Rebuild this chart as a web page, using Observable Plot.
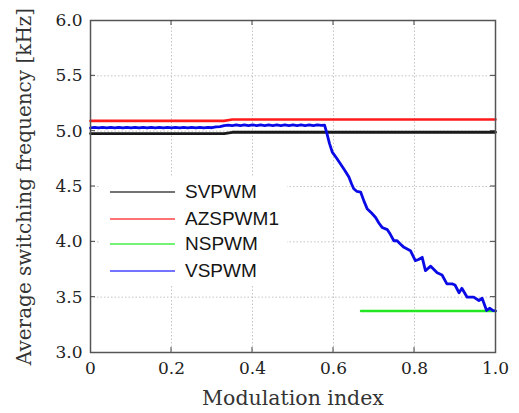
<!DOCTYPE html>
<html>
<head>
<meta charset="utf-8">
<script src="https://cdn.jsdelivr.net/npm/d3@7"></script>
<script src="https://cdn.jsdelivr.net/npm/@observablehq/plot@0.6"></script>
<style>
  html, body { margin: 0; padding: 0; background: #fff; }
  #wrap { position: relative; width: 519px; height: 413px; }
  #legend { position: absolute; left: 100px; top: 176px; width: 187px; height: 108px; background: #fff;
    font-family: "Liberation Sans", Arial, sans-serif; font-size: 19px; color: #151515; }
  .row { position: absolute; left: 0; height: 20px; display: flex; align-items: center; }
  .row svg { margin-left: 10px; }
  .row span { margin-left: 10px; }
</style>
</head>
<body>
<div id="wrap"></div>
<script>
// Tick labels
const xTicks = [0, 0.2, 0.4, 0.6, 0.8, 1.0];
const xTickLabels = ["0", "0.2", "0.4", "0.6", "0.8", "1.0"];
const yTicks = [3.0, 3.5, 4.0, 4.5, 5.0, 5.5, 6.0];
const yTickLabels = ["3.0", "3.5", "4.0", "4.5", "5.0", "5.5", "6.0"];

// Series names and colours
const seriesNames = ["SVPWM", "AZSPWM1", "NSPWM", "VSPWM"];
const seriesColors = ["#1a1a1a", "#ff1a1a", "#22e622", "#0a0ae6"];
const legendColors = ["#444444", "#ff4545", "#45ee45", "#4545ff"];

// SVPWM
const svX = [0, 0.33, 0.35, 1.0];
const svY = [4.978, 4.978, 4.99, 4.99];
// AZSPWM1
const azX = [0, 0.33, 0.35, 1.0];
const azY = [5.093, 5.093, 5.106, 5.106];
// NSPWM
const nsX = [0.668, 1.0];
const nsY = [3.375, 3.375];
// VSPWM
const vsX = [0, 0.01, 0.02, 0.03, 0.04, 0.05, 0.06, 0.07, 0.08, 0.09, 0.10,
  0.11, 0.12, 0.13, 0.14, 0.15, 0.16, 0.17, 0.18, 0.19, 0.20,
  0.21, 0.22, 0.23, 0.24, 0.25, 0.26, 0.27, 0.28, 0.29, 0.30,
  0.31, 0.32, 0.33, 0.34, 0.35, 0.36, 0.37, 0.38, 0.39, 0.40,
  0.41, 0.42, 0.43, 0.44, 0.45, 0.46, 0.47, 0.48, 0.49, 0.50,
  0.51, 0.52, 0.53, 0.54, 0.55, 0.56, 0.57, 0.578,
  0.584, 0.590, 0.597, 0.607, 0.617, 0.628, 0.638, 0.645, 0.650, 0.658,
  0.667, 0.675, 0.683, 0.694, 0.704, 0.712, 0.720, 0.733, 0.740, 0.749,
  0.757, 0.765, 0.774, 0.790, 0.802, 0.810, 0.819, 0.827, 0.840, 0.848,
  0.856, 0.868, 0.880, 0.893, 0.900, 0.910, 0.917, 0.930, 0.946, 0.959,
  0.967, 0.978, 0.986, 0.993, 1.0];
const vsY = [5.029, 5.035, 5.029, 5.035, 5.029, 5.035, 5.029, 5.035, 5.029, 5.035, 5.029,
  5.035, 5.029, 5.035, 5.029, 5.035, 5.029, 5.035, 5.029, 5.035, 5.029,
  5.035, 5.029, 5.035, 5.029, 5.035, 5.029, 5.035, 5.029, 5.035, 5.031,
  5.038, 5.042, 5.050, 5.055, 5.051, 5.056, 5.051, 5.056, 5.051, 5.056,
  5.051, 5.056, 5.051, 5.056, 5.051, 5.056, 5.051, 5.056, 5.051, 5.056,
  5.051, 5.056, 5.051, 5.056, 5.051, 5.056, 5.052, 5.055,
  4.975, 4.89, 4.81, 4.76, 4.705, 4.645, 4.585, 4.52, 4.48, 4.455,
  4.45, 4.37, 4.30, 4.26, 4.22, 4.17, 4.13, 4.11, 4.07, 4.01,
  4.01, 3.98, 3.95, 3.92, 3.83, 3.84, 3.86, 3.74, 3.78, 3.75,
  3.72, 3.70, 3.62, 3.62, 3.61, 3.54, 3.58, 3.50, 3.50, 3.47,
  3.49, 3.38, 3.40, 3.38, 3.375];

const toRows = (xs, ys, name) => xs.map((x, i) => ({x, y: ys[i], name}));
const sv = toRows(svX, svY, seriesNames[0]);
const az = toRows(azX, azY, seriesNames[1]);
const ns = toRows(nsX, nsY, seriesNames[2]);
const vs = toRows(vsX, vsY, seriesNames[3]);

const serif = "'DejaVu Serif', serif";

const chart = Plot.plot({
  width: 519,
  height: 413,
  marginLeft: 90,
  marginRight: 24,
  marginTop: 20,
  marginBottom: 61,
  style: {fontFamily: serif, fontSize: "17px", color: "#222", background: "#fff"},
  x: {domain: [0, 1]},
  y: {domain: [3, 6]},
  marks: [
    Plot.gridX(xTicks.slice(1, -1), {stroke: "#c4c4c4", strokeOpacity: 1, strokeDasharray: "1.5,2"}),
    Plot.gridY(yTicks.slice(1, -1), {stroke: "#c4c4c4", strokeOpacity: 1, strokeDasharray: "1.5,2"}),
    Plot.line(sv, {x: "x", y: "y", stroke: seriesColors[0], strokeWidth: 2.8}),
    Plot.line(az, {x: "x", y: "y", stroke: seriesColors[1], strokeWidth: 2.6}),
    Plot.line(ns, {x: "x", y: "y", stroke: seriesColors[2], strokeWidth: 2.4}),
    Plot.line(vs, {x: "x", y: "y", stroke: seriesColors[3], strokeWidth: 2.8, strokeLinejoin: "round"}),
    Plot.axisX({ticks: xTicks, tickSize: 0, tickPadding: 9, tickFormat: (d, i) => xTickLabels[i], label: null, fontSize: 17}),
    Plot.axisY({ticks: yTicks, tickSize: 0, tickPadding: 8, tickFormat: (d, i) => yTickLabels[i], label: null, fontSize: 17}),
    Plot.frame({stroke: "#555", strokeWidth: 1.5}),
    Plot.text(["Average switching frequency [kHz]"], {frameAnchor: "left", textAnchor: "middle", lineAnchor: "middle", dx: -66, rotate: -90, fontSize: 20, fill: "#333"}),
    Plot.text(["Modulation index"], {frameAnchor: "bottom", textAnchor: "middle", lineAnchor: "middle", dy: 46, fontSize: 20.5, fill: "#333"})
  ]
});

// inward tick marks positioned through the chart's scales
const svgNS = "http://www.w3.org/2000/svg";
const sx = chart.scale("x"), sy = chart.scale("y");
const [x0, x1] = sx.range, [y0, y1] = sy.range; // y0 bottom, y1 top
const tg = document.createElementNS(svgNS, "g");
tg.setAttribute("stroke", "#444");
tg.setAttribute("stroke-width", "1");
function seg(a, b, c, d) {
  const l = document.createElementNS(svgNS, "line");
  l.setAttribute("x1", a); l.setAttribute("y1", b); l.setAttribute("x2", c); l.setAttribute("y2", d);
  tg.appendChild(l);
}
for (const t of xTicks.slice(1, -1)) {
  const px = sx.apply(t);
  seg(px, y0, px, y0 - 5);
  seg(px, y1, px, y1 + 5);
}
for (const t of yTicks.slice(1, -1)) {
  const py = sy.apply(t);
  seg(x0, py, x0 + 5, py);
  seg(x1, py, x1 - 5, py);
}
chart.appendChild(tg);

const wrap = document.getElementById("wrap");
wrap.appendChild(chart);

// Legend
const legend = document.createElement("div");
legend.id = "legend";
const rowTops = [6, 33, 58, 85];
seriesNames.forEach((name, i) => {
  const row = document.createElement("div");
  row.className = "row";
  row.style.top = rowTops[i] + "px";
  row.innerHTML = `<svg width="65" height="4"><line x1="0" y1="2" x2="65" y2="2" stroke="${legendColors[i]}" stroke-width="1.6"/></svg><span>${name}</span>`;
  legend.appendChild(row);
});
wrap.appendChild(legend);
</script>
</body>
</html>
